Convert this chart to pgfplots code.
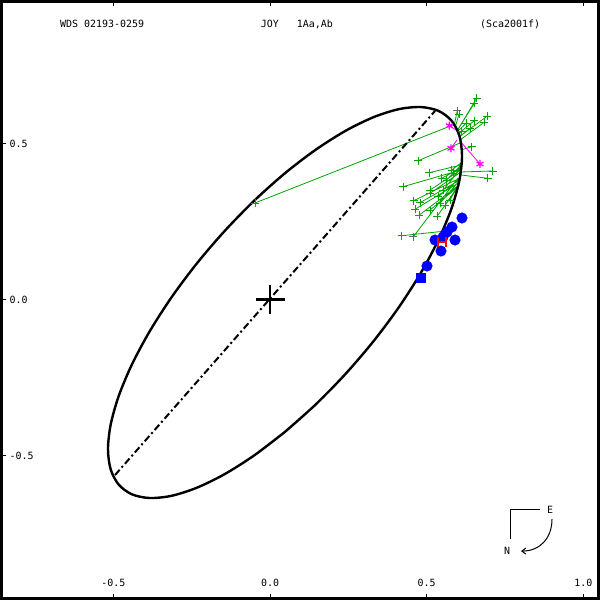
\documentclass[border=0pt]{standalone}
\usepackage{pgfplots}
\pgfplotsset{compat=1.18}
\usepackage{fontspec}
\setmainfont{DejaVu Sans Mono}
\usetikzlibrary{arrows.meta}
\definecolor{ggreen}{RGB}{0,165,0}
\definecolor{ggray}{RGB}{100,100,100}
\definecolor{mmag}{RGB}{255,0,255}
\pgfdeclareplotmark{Hmark}{%
  \pgfpathmoveto{\pgfpoint{-\pgfplotmarksize}{-1.3\pgfplotmarksize}}%
  \pgfpathlineto{\pgfpoint{-\pgfplotmarksize}{1.3\pgfplotmarksize}}%
  \pgfpathmoveto{\pgfpoint{\pgfplotmarksize}{-1.3\pgfplotmarksize}}%
  \pgfpathlineto{\pgfpoint{\pgfplotmarksize}{1.3\pgfplotmarksize}}%
  \pgfpathmoveto{\pgfpoint{-\pgfplotmarksize}{0pt}}%
  \pgfpathlineto{\pgfpoint{\pgfplotmarksize}{0pt}}%
  \pgfusepathqstroke}
\begin{document}
\begin{tikzpicture}
\begin{axis}[
  scale only axis, width=597bp, height=597bp,
  xmin=-0.857, xmax=1.0485, ymin=-0.958, ymax=0.955,
  axis line style={line width=3bp},
  xtick={-0.5,0,0.5,1}, xticklabels={-0.5,0.0,0.5,1.0},
  ytick={-0.5,0,0.5}, yticklabels={-0.5,0.0,0.5},
  xtick pos=both, ytick pos=left,
  tick align=inside, major tick length=5bp,
  tick style={line width=1bp, black},
  xticklabel style={anchor=base, inner sep=0pt, yshift=12.5bp},
  yticklabel style={anchor=west, inner sep=0pt, xshift=8bp},
  font=\fontsize{10}{12}\selectfont,
]
% green residual lines
\addplot[ggreen, line width=0.8bp, unbounded coords=jump, forget plot] coordinates {
(0.6598,0.6449)(0.5969,0.5401) (nan,nan)
(0.6521,0.6288)(0.5969,0.5401) (nan,nan)
(0.5978,0.6051)(0.5873,0.5561) (nan,nan)
(0.6033,0.5946)(0.5905,0.5497) (nan,nan)
(0.6936,0.5881)(0.6033,0.5208) (nan,nan)
(0.6840,0.5679)(0.6064,0.5112) (nan,nan)
(0.6521,0.5731)(0.6001,0.5304) (nan,nan)
(0.6256,0.5647)(0.5969,0.5369) (nan,nan)
(0.6384,0.5487)(0.6033,0.5208) (nan,nan)
(0.6119,0.5378)(0.6001,0.5304) (nan,nan)
(-0.0479,0.3093)(0.5841,0.5593) (nan,nan)
(0.4733,0.4449)(0.6064,0.5016) (nan,nan)
(0.6438,0.4897)(0.6096,0.4792) (nan,nan)
(0.5085,0.4064)(0.6096,0.4311) (nan,nan)
(0.7108,0.4119)(0.6096,0.4087) (nan,nan)
(0.6949,0.3885)(0.6096,0.3990) (nan,nan)
(0.4245,0.3615)(0.6096,0.4151) (nan,nan)
(0.4587,0.3167)(0.6064,0.3894) (nan,nan)
(0.4788,0.3103)(0.6064,0.3830) (nan,nan)
(0.4628,0.2891)(0.6064,0.3766) (nan,nan)
(0.4765,0.2708)(0.6033,0.3670) (nan,nan)
(0.5340,0.2676)(0.6033,0.3638) (nan,nan)
(0.4204,0.2045)(0.5618,0.2196) (nan,nan)
(0.4574,0.2013)(0.6001,0.3894) (nan,nan)
(0.5107,0.3510)(0.6096,0.4151) (nan,nan)
(0.5372,0.3295)(0.6064,0.3894) (nan,nan)
(0.5531,0.3510)(0.6096,0.4215) (nan,nan)
(0.5640,0.3830)(0.6096,0.4311) (nan,nan)
(0.5851,0.4045)(0.6096,0.4279) (nan,nan)
(0.5426,0.3083)(0.6064,0.3830) (nan,nan)
(0.5745,0.3189)(0.6064,0.3766) (nan,nan)
(0.5107,0.3404)(0.6096,0.4087) (nan,nan)
(0.5586,0.3029)(0.6033,0.3670) (nan,nan)
(0.5480,0.3885)(0.6096,0.4215) (nan,nan)
(0.5800,0.4151)(0.6096,0.4375) (nan,nan)
(0.5107,0.2869)(0.6033,0.3638)
};
% green observation marks
\addplot[only marks, mark=+, mark size=4bp, ggreen, mark options={line width=0.8bp}, forget plot] coordinates {
(0.6598,0.6449)(0.6521,0.6288)(0.6033,0.5946)(0.6936,0.5881)(0.6840,0.5679)
(0.6521,0.5731)(0.6256,0.5647)(0.6384,0.5487)(0.6119,0.5378)(-0.0479,0.3093)
(0.4733,0.4449)(0.6438,0.4897)(0.5085,0.4064)(0.7108,0.4119)(0.6949,0.3885)
(0.4245,0.3615)(0.4587,0.3167)(0.4788,0.3103)(0.4628,0.2891)(0.4765,0.2708)
(0.5340,0.2676)(0.4204,0.2045)(0.5107,0.3510)(0.5372,0.3295)(0.5531,0.3510)
(0.5640,0.3830)(0.5851,0.4045)(0.5426,0.3083)(0.5745,0.3189)(0.5107,0.3404)
(0.5586,0.3029)(0.5480,0.3885)(0.5800,0.4151)(0.5107,0.2869)
};
% gray observation marks
\addplot[only marks, mark=+, mark size=4bp, ggray, mark options={line width=0.8bp}, forget plot] coordinates {
(0.5978,0.6051)(0.4574,0.2013)
};
% magenta residuals
\addplot[mmag, line width=0.8bp, unbounded coords=jump, forget plot] coordinates {
(0.5723,0.5571)(0.5937,0.5433) (nan,nan)
(0.5777,0.4846)(0.5969,0.5112) (nan,nan)
(0.6703,0.4343)(0.6064,0.5080)
};
\addplot[only marks, mark=asterisk, mark size=4bp, mmag, mark options={line width=1.2bp}, forget plot] coordinates {
(0.5723,0.5571)(0.5777,0.4846)(0.6703,0.4343)
};
% blue circles
\addplot[only marks, mark=*, mark size=5.3bp, blue, mark options={draw=blue, fill=blue}, forget plot] coordinates {
(0.6128,0.2612)(0.5809,0.2324)(0.5650,0.2163)(0.5267,0.1907)(0.5522,0.2003)
(0.5905,0.1907)(0.5458,0.1554)(0.5011,0.1074)
};
% blue square
\addplot[only marks, mark=square*, mark size=4.5bp, blue, mark options={draw=blue, fill=blue}, forget plot] coordinates {
(0.4820,0.0689)
};
% orbit ellipse
\addplot[black, line width=2.4bp, smooth, forget plot] coordinates {
(0.0479,-0.4240)(-0.0502,-0.4993)(-0.1453,-0.5598)(-0.2346,-0.6035)(-0.3153,-0.6292)
(-0.3849,-0.6360)(-0.4414,-0.6239)(-0.4830,-0.5930)(-0.5085,-0.5445)(-0.5171,-0.4796)
(-0.5085,-0.4006)(-0.4830,-0.3096)(-0.4414,-0.2095)(-0.3849,-0.1033)(-0.3153,0.0057)
(-0.2346,0.1143)(-0.1453,0.2190)(-0.0502,0.3169)(0.0479,0.4048)(0.1460,0.4801)
(0.2411,0.5406)(0.3304,0.5843)(0.4111,0.6100)(0.4807,0.6168)(0.5372,0.6047)
(0.5788,0.5738)(0.6043,0.5253)(0.6129,0.4604)(0.6043,0.3813)(0.5788,0.2903)
(0.5372,0.1903)(0.4807,0.0841)(0.4111,-0.0249)(0.3304,-0.1335)(0.2411,-0.2383)
(0.1460,-0.3361)(0.0479,-0.4240)
};
% red H
\addplot[only marks, mark=Hmark, mark size=3.7bp, red, mark options={line width=2bp}, forget plot] coordinates {
(0.5490,0.1843)
};
% line of nodes
\addplot[black, line width=2bp, dash pattern=on 7bp off 3bp on 2bp off 3bp, forget plot] coordinates {
(-0.4947,-0.5625)(0.5267,0.6042)
};
% primary
\addplot[only marks, mark=+, mark size=14.5bp, black, mark options={line width=2.2bp}, forget plot] coordinates {(0,0)};
% titles
\node[anchor=west, inner sep=0pt] at (axis cs:-0.6703,0.883) {WDS 02193-0259};
\node[anchor=west, inner sep=0pt] at (axis cs:-0.0297,0.883) {JOY\ \ \ 1Aa,Ab};
\node[anchor=west, inner sep=0pt] at (axis cs:0.6703,0.883) {(Sca2001f)};
% compass
\draw[line width=1bp] (axis cs:0.8618,-0.6715) -- (axis cs:0.7692,-0.6715) -- (axis cs:0.7692,-0.7676);
\node[inner sep=0pt] at (axis cs:0.8937,-0.6747) {E};
\node[inner sep=0pt] at (axis cs:0.7565,-0.8061) {N};
\draw[line width=1bp, -{Straight Barb[length=4bp,width=6bp]}] (axis cs:0.9001,-0.7035) .. controls (axis cs:0.9001,-0.7644) and (axis cs:0.8618,-0.8061) .. (axis cs:0.8011,-0.8061);
\end{axis}
\end{tikzpicture}
\end{document}
